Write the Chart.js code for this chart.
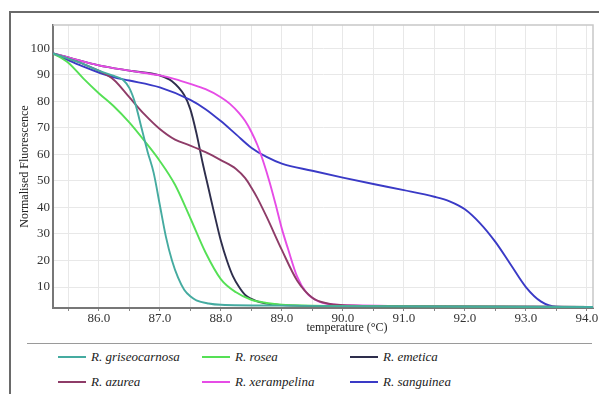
<!DOCTYPE html>
<html>
<head>
<meta charset="utf-8">
<script src="https://cdn.jsdelivr.net/npm/chart.js@4"></script>
<style>
    body { margin: 0; background: #fff; width: 599px; height: 394px; overflow: hidden; position: relative; }
    #frame { position: absolute; left: 9px; top: 11px; width: 620px; height: 420px; border-left: 2px solid #6a6a6a; border-top: 2px solid #6a6a6a; }
    #chartBox { position: absolute; left: 0; top: 0; }
    #sep { position: absolute; left: 27px; top: 343px; width: 565px; border-top: 1px solid #9a9a9a; }
    .item { position: absolute; font-family: "Liberation Serif", serif; font-style: italic; font-size: 13px; color: #222; line-height: 16px; white-space: nowrap; }
    .item span.swatch { position: absolute; left: 0; top: 7px; width: 28px; height: 2px; }
    .item span.label { position: absolute; left: 33px; top: 0; }
</style>
</head>
<body>
<div id="frame"></div>
<canvas id="chartBox" width="599" height="340"></canvas>
<div id="sep"></div>
<div id="legend"></div>

<script>
// melt curves
const griseoT = [85.25, 85.5, 85.75, 86.0, 86.25, 86.4, 86.5, 86.6, 86.7, 86.8, 86.9, 87.0, 87.1, 87.2, 87.3, 87.4, 87.5, 87.6, 87.8, 88.0, 89.0, 90.0, 94.1];
const griseoV = [98, 96, 94, 91.5, 89.5, 88, 85, 79, 70, 61, 53, 41, 29, 20, 13.5, 9, 6.5, 5, 3.8, 3.3, 3, 2.8, 2.5];

const roseaT = [85.25, 85.5, 85.75, 86.0, 86.25, 86.5, 86.75, 87.0, 87.25, 87.5, 87.75, 88.0, 88.25, 88.5, 88.75, 89.0, 89.5, 90.0, 94.1];
const roseaV = [98, 94.5, 88.5, 83, 78, 72, 65, 57.5, 48.5, 36, 23, 13, 8, 5.2, 4, 3.3, 3, 2.8, 2.5];

const emeticaT = [85.25, 85.5, 86.0, 86.5, 87.0, 87.2, 87.4, 87.5, 87.6, 87.7, 87.8, 87.9, 88.0, 88.1, 88.2, 88.3, 88.4, 88.6, 88.8, 89.0, 90.0, 94.1];
const emeticaV = [98, 96.5, 93.5, 91.5, 89.7, 87.5, 82.3, 77, 68, 57, 47, 37, 27.5, 20, 14, 10, 7, 4.6, 3.6, 3.2, 2.8, 2.5];

const azureaT = [85.25, 85.5, 85.75, 86.0, 86.25, 86.5, 86.75, 87.0, 87.25, 87.5, 87.75, 88.0, 88.25, 88.4, 88.5, 88.6, 88.75, 89.0, 89.25, 89.5, 89.75, 90.0, 91.0, 94.1];
const azureaV = [98, 96, 94, 91.5, 88, 81.5, 75, 69.5, 65.5, 63.3, 60.8, 57.8, 54.5, 51, 47.5, 43.5, 36.5, 24, 12.5, 6, 3.8, 3.2, 2.8, 2.5];

const xerampT = [85.25, 85.5, 86.0, 86.5, 87.0, 87.25, 87.5, 87.75, 88.0, 88.15, 88.3, 88.4, 88.5, 88.6, 88.7, 88.8, 88.9, 89.0, 89.1, 89.25, 89.4, 89.6, 89.8, 90.0, 94.1];
const xerampV = [98, 96.5, 93.5, 91.5, 89.7, 88.3, 86.5, 84.5, 81.5, 79, 75.5, 72.5, 68.5, 63.5, 57, 49.5, 41, 32, 24.5, 14, 8, 4.6, 3.5, 3.2, 2.5];

const sangT = [85.25, 85.5, 85.75, 86.0, 86.25, 86.5, 87.0, 87.5, 87.75, 88.0, 88.25, 88.5, 88.75, 89.0, 89.5, 90.0, 90.5, 91.0, 91.5, 91.75, 92.0, 92.25, 92.5, 92.75, 93.0, 93.25, 93.5, 94.1];
const sangV = [98, 95.5, 93, 90.8, 89, 87.8, 85.2, 80.5, 77, 72.5, 67.5, 62.5, 59, 56.5, 53.8, 51.2, 48.8, 46.5, 44, 42.3, 39.3, 34, 27, 18.5, 10, 4.5, 2.6, 2.4];

const speciesNames = ['R. griseocarnosa', 'R. rosea', 'R. emetica', 'R. azurea', 'R. xerampelina', 'R. sanguinea'];
const speciesColors = ['#45aba0', '#55e055', '#2e2e4c', '#8e3c68', '#e64ce6', '#3a3ac6'];
const seriesT = [griseoT, roseaT, emeticaT, azureaT, xerampT, sangT];
const seriesV = [griseoV, roseaV, emeticaV, azureaV, xerampV, sangV];
// emetica runs under the other curves until it drops
const drawOrder = [0, 0, 1, 0, 0, 0];

const xTicks = [85.5, 86, 86.5, 87, 87.5, 88, 88.5, 89, 89.5, 90, 90.5, 91, 91.5, 92, 92.5, 93, 93.5, 94];
const yTicks = [10, 20, 30, 40, 50, 60, 70, 80, 90, 100];

const serif = '"Liberation Serif", "Times New Roman", serif';

const datasets = speciesNames.map((name, i) => ({
    label: name,
    data: seriesT[i].map((t, j) => ({ x: t, y: seriesV[i][j] })),
    borderColor: speciesColors[i],
    backgroundColor: speciesColors[i],
    borderWidth: 1.9,
    pointRadius: 0,
    order: drawOrder[i],
    cubicInterpolationMode: 'monotone',
    fill: false
}));

// light box on top/right of the plot area
const plotBox = {
    id: 'plotBox',
    beforeDatasetsDraw(chart) {
        const a = chart.chartArea;
        const ctx = chart.ctx;
        ctx.save();
        ctx.strokeStyle = '#c8c8c8';
        ctx.lineWidth = 1.5;
        ctx.beginPath();
        ctx.moveTo(a.left, a.top);
        ctx.lineTo(a.right, a.top);
        ctx.lineTo(a.right, a.bottom);
        ctx.stroke();
        ctx.restore();
    }
};

const ctx = document.getElementById('chartBox').getContext('2d');
const meltChart = new Chart(ctx, {
    type: 'line',
    data: { datasets: datasets },
    plugins: [plotBox],
    options: {
        responsive: false,
        animation: false,
        devicePixelRatio: 1,
        layout: { padding: { left: 18, right: 6, top: 25, bottom: 5 } },
        scales: {
            x: {
                type: 'linear',
                min: 85.25,
                max: 94.1,
                afterBuildTicks: scale => { scale.ticks = xTicks.map(v => ({ value: v })); },
                afterFit: scale => { scale.height = 27; },
                ticks: {
                    autoSkip: false,
                    maxRotation: 0,
                    padding: 0,
                    color: '#333',
                    font: { family: serif, size: 13 },
                    callback: v => (v % 1 === 0 ? v.toFixed(1) : '')
                },
                grid: { color: '#e8e8e8', lineWidth: 1, tickLength: 3, tickColor: '#888' },
                border: { color: '#777', width: 2 },
                title: {
                    display: true,
                    // the source centres this label a little right of the plot middle
                    text: '\u2003\u2003\u2003\u2003temperature (°C)',
                    color: '#222',
                    padding: 0,
                    font: { family: serif, size: 12 }
                }
            },
            y: {
                min: 2.1,
                max: 108.7,
                afterBuildTicks: scale => { scale.ticks = yTicks.map(v => ({ value: v })); },
                afterFit: scale => { scale.width = 35; },
                ticks: {
                    padding: 3,
                    color: '#333',
                    font: { family: serif, size: 13 }
                },
                grid: { color: '#e8e8e8', lineWidth: 1, tickLength: 0 },
                border: { color: '#777', width: 2 },
                title: {
                    display: true,
                    text: 'Normalised Fluorescence',
                    color: '#222',
                    padding: 0,
                    font: { family: serif, size: 12 }
                }
            }
        },
        plugins: {
            legend: { display: false },
            tooltip: { enabled: false }
        }
    }
});

// legend below the chart, three per row
const legendCols = [58, 202, 350];
const legendRows = [349, 374];
const legendBox = document.getElementById('legend');
meltChart.data.datasets.forEach((ds, i) => {
    const item = document.createElement('div');
    item.className = 'item';
    item.style.left = legendCols[i % 3] + 'px';
    item.style.top = legendRows[Math.floor(i / 3)] + 'px';
    item.innerHTML = '<span class="swatch" style="background:' + ds.borderColor + '"></span><span class="label">' + ds.label + '</span>';
    legendBox.appendChild(item);
});
</script>
</body>
</html>
